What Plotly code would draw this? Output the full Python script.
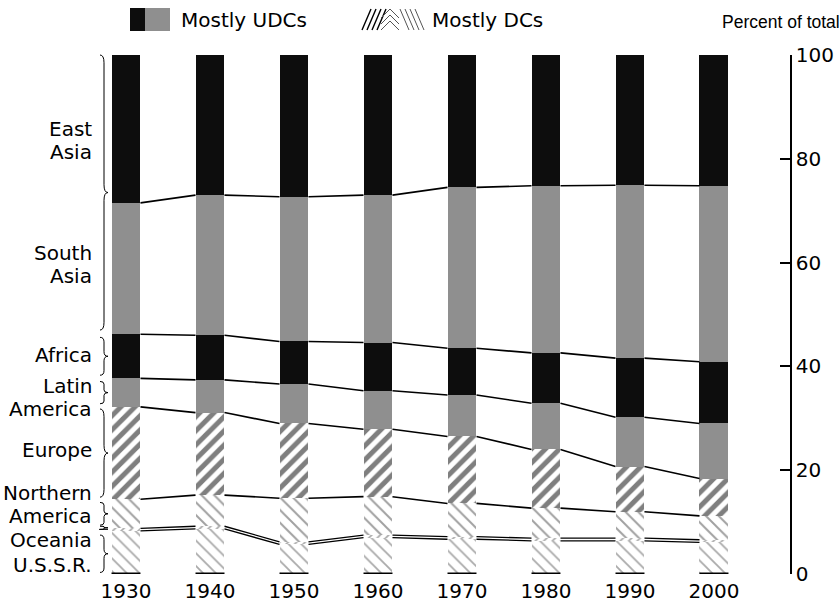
import plotly.graph_objects as go

# ---------------- data (percent of world population) ----------------
years = [1930, 1940, 1950, 1960, 1970, 1980, 1990, 2000]
year_labels = ["1930", "1940", "1950", "1960", "1970", "1980", "1990", "2000"]
ussr          = [8.3, 8.7, 5.7, 7.0, 6.7, 6.4, 6.4, 6.1]
oceania       = [0.5, 0.5, 0.5, 0.5, 0.5, 0.5, 0.5, 0.5]
north_america = [5.6, 6.0, 8.4, 7.4, 6.4, 5.8, 5.1, 4.6]
europe        = [17.8, 15.9, 14.4, 13.0, 12.9, 11.3, 8.7, 7.2]
latin_america = [5.5, 6.3, 7.6, 7.4, 8.0, 8.9, 9.5, 10.6]
africa        = [8.5, 8.6, 8.2, 9.3, 9.0, 9.7, 11.4, 11.9]
south_asia    = [25.3, 27.0, 27.9, 28.4, 31.0, 32.2, 33.3, 33.9]
east_asia     = [28.5, 27.0, 27.3, 27.0, 25.5, 25.2, 25.1, 25.2]
y_ticks = [0, 20, 40, 60, 80, 100]
y_tick_labels = ["0", "20", "40", "60", "80", "100"]

region_names = ["U.S.S.R.", "Oceania", "Northern America", "Europe",
                "Latin America", "Africa", "South Asia", "East Asia"]
region_values = [ussr, oceania, north_america, europe,
                 latin_america, africa, south_asia, east_asia]

# ---------------- styles ----------------
FONT = "DejaVu Sans"
BAR_W = 3.45
BLACK = "#0d0d0d"
GREY = "#8f8f8f"
styles = [
    dict(color="white", pattern=dict(shape="\\", fgcolor="#555555", bgcolor="white", size=9, solidity=0.2)),
    dict(color="white", pattern=dict(shape="/", fgcolor="#555555", bgcolor="white", size=6, solidity=0.3)),
    dict(color="white", pattern=dict(shape="\\", fgcolor="#444444", bgcolor="white", size=9, solidity=0.22)),
    dict(color="white", pattern=dict(shape="/", fgcolor="#000000", bgcolor="white", size=10, solidity=0.5)),
    dict(color=GREY),
    dict(color=BLACK),
    dict(color=GREY),
    dict(color=BLACK),
]

L, R, T, B = 105, 50, 55, 32
W, H = 840, 606
PW, PH = W - L - R, H - T - B


def px(x):  # pixel -> paper x
    return (x - L) / PW


def py(y):  # pixel -> paper y
    return (H - B - y) / PH


fig = go.Figure()

for name, vals, st in zip(region_names, region_values, styles):
    fig.add_trace(go.Bar(
        x=years, y=vals, name=name, width=BAR_W,
        marker=dict(line=dict(width=0), **st),
        hoverinfo="skip",
    ))

# cumulative boundaries
cum = []
run = [0.0] * len(years)
for vals in region_values[:-1]:
    run = [a + b for a, b in zip(run, vals)]
    cum.append(list(run))

# connecting lines between bars
for k, bnd in enumerate(cum):
    xs, ys = [], []
    for i in range(len(years) - 1):
        xs += [years[i] + BAR_W / 2, years[i + 1] - BAR_W / 2, None]
        ys += [bnd[i], bnd[i + 1], None]
    fig.add_trace(go.Scatter(x=xs, y=ys, mode="lines",
                             line=dict(color="black", width=1.3 if k < 2 else 1.6),
                             hoverinfo="skip", showlegend=False))

# thick base under each bar
bx, by = [], []
for yr in years:
    bx += [yr - BAR_W / 2, yr + BAR_W / 2, None]
    by += [0, 0, None]
fig.add_trace(go.Scatter(x=bx, y=by, mode="lines", line=dict(color="black", width=3),
                         cliponaxis=False, hoverinfo="skip", showlegend=False))

shapes = []
annotations = []

# ---------------- braces and labels on the left ----------------
first = [c[0] for c in cum]
brace_spans = [
    (100.0, first[5] + 0.8),            # East Asia
    (first[5] - 0.6, first[4] + 0.6),    # South Asia
    (first[4] - 0.6, first[3] + 0.6),    # Africa
    (first[3] - 0.4, first[2] + 0.4),    # Latin America
    (first[2] - 0.6, first[1] + 0.6),    # Europe
    (first[1] - 0.2, first[0] + 0.9),    # Northern America
    (first[0] - 0.8, 0.3),               # U.S.S.R.
]


def brace(yt, yb):
    yt, yb = yt / 100, yb / 100
    xl, xm, xr = px(100), px(104), px(108)
    q = min((yt - yb) * 0.12, 0.015)
    ym = (yt + yb) / 2
    return (f"M {xl},{yt} Q {xm},{yt} {xm},{yt - q} L {xm},{ym + q} "
            f"Q {xm},{ym} {xr},{ym} Q {xm},{ym} {xm},{ym - q} "
            f"L {xm},{yb + q} Q {xm},{yb} {xl},{yb}")


for yt, yb in brace_spans:
    shapes.append(dict(type="path", xref="paper", yref="paper", path=brace(yt, yb),
                       line=dict(color="black", width=1)))
# Oceania dash
oc = first[0] + 0.3
shapes.append(dict(type="line", xref="paper", yref="paper", x0=px(99), x1=px(108),
                   y0=oc / 100, y1=oc / 100, line=dict(color="black", width=1)))

label_lines = [
    (["East", "Asia"], 83.6),
    (["South", "Asia"], 59.7),
    (["Africa"], 42.2),
    (["Latin", "America"], 34.0),
    (["Europe"], 23.9),
    (["Northern", "America"], 13.3),
    (["Oceania"], 6.55),
    (["U.S.S.R."], 1.7),
]
for lines, yc in label_lines:
    n = len(lines)
    for j, t in enumerate(lines):
        annotations.append(dict(text=t, xref="paper", yref="y", x=px(94), y=yc,
                                xanchor="right", yanchor="middle", showarrow=False,
                                yshift=(n - 1) * 11.5 - j * 23,
                                font=dict(family=FONT, size=20, color="black")))

# ---------------- legend (drawn) ----------------
shapes.append(dict(type="rect", xref="paper", yref="paper", x0=px(130), x1=px(145),
                   y0=py(31), y1=py(8), fillcolor=BLACK, line=dict(width=0)))
shapes.append(dict(type="rect", xref="paper", yref="paper", x0=px(145), x1=px(170),
                   y0=py(31), y1=py(8), fillcolor=GREY, line=dict(width=0)))
annotations.append(dict(text="Mostly UDCs", xref="paper", yref="paper", x=px(179), y=py(20),
                        xanchor="left", yanchor="middle", showarrow=False,
                        font=dict(family=FONT, size=20, color="black")))

hatch = []
# "///" part
for i in range(4):
    x0 = 362 + i * 5
    hatch.append(f"M {px(x0)},{py(30)} L {px(x0 + 9)},{py(9)}")
# chevrons
for i in range(3):
    yy = 30 - i * 6
    hatch.append(f"M {px(381)},{py(yy)} L {px(390)},{py(yy - 9)} L {px(399)},{py(yy)}")
# "\\\" part
for i in range(4):
    x0 = 400 + i * 5
    hatch.append(f"M {px(x0)},{py(9)} L {px(x0 + 9)},{py(30)}")
shapes.append(dict(type="path", xref="paper", yref="paper", path=" ".join(hatch[:4]),
                   line=dict(color="black", width=1.4)))
shapes.append(dict(type="path", xref="paper", yref="paper", path=" ".join(hatch[4:]),
                   line=dict(color="#555555", width=1)))
annotations.append(dict(text="Mostly DCs", xref="paper", yref="paper", x=px(430), y=py(20),
                        xanchor="left", yanchor="middle", showarrow=False,
                        font=dict(family=FONT, size=20, color="black")))

annotations.append(dict(text="Percent of total", xref="paper", yref="paper", x=px(842), y=py(22),
                        xanchor="right", yanchor="middle", showarrow=False,
                        font=dict(family="Liberation Sans", size=17.5, color="black")))

fig.update_layout(
    width=W, height=H,
    margin=dict(l=L, r=R, t=T, b=B, autoexpand=False),
    barmode="stack",
    showlegend=False,
    plot_bgcolor="white", paper_bgcolor="white",
    shapes=shapes, annotations=annotations,
    xaxis=dict(range=[1927.5, 2009.05], tickvals=years, ticktext=year_labels,
               showgrid=False, zeroline=False, showline=False, ticks="",
               ticklabelstandoff=3, automargin=False,
               tickfont=dict(family=FONT, size=20, color="black"), fixedrange=True),
    yaxis=dict(range=[0, 100], side="right", tickvals=y_ticks, ticktext=y_tick_labels,
               showgrid=False, zeroline=False, showline=True, linecolor="black", linewidth=1.5,
               ticks="inside", ticklen=10, tickwidth=1.5, tickcolor="black",
               ticklabelstandoff=0, automargin=False,
               tickfont=dict(family=FONT, size=20, color="black"), fixedrange=True),
)

fig.write_html("out.html")
